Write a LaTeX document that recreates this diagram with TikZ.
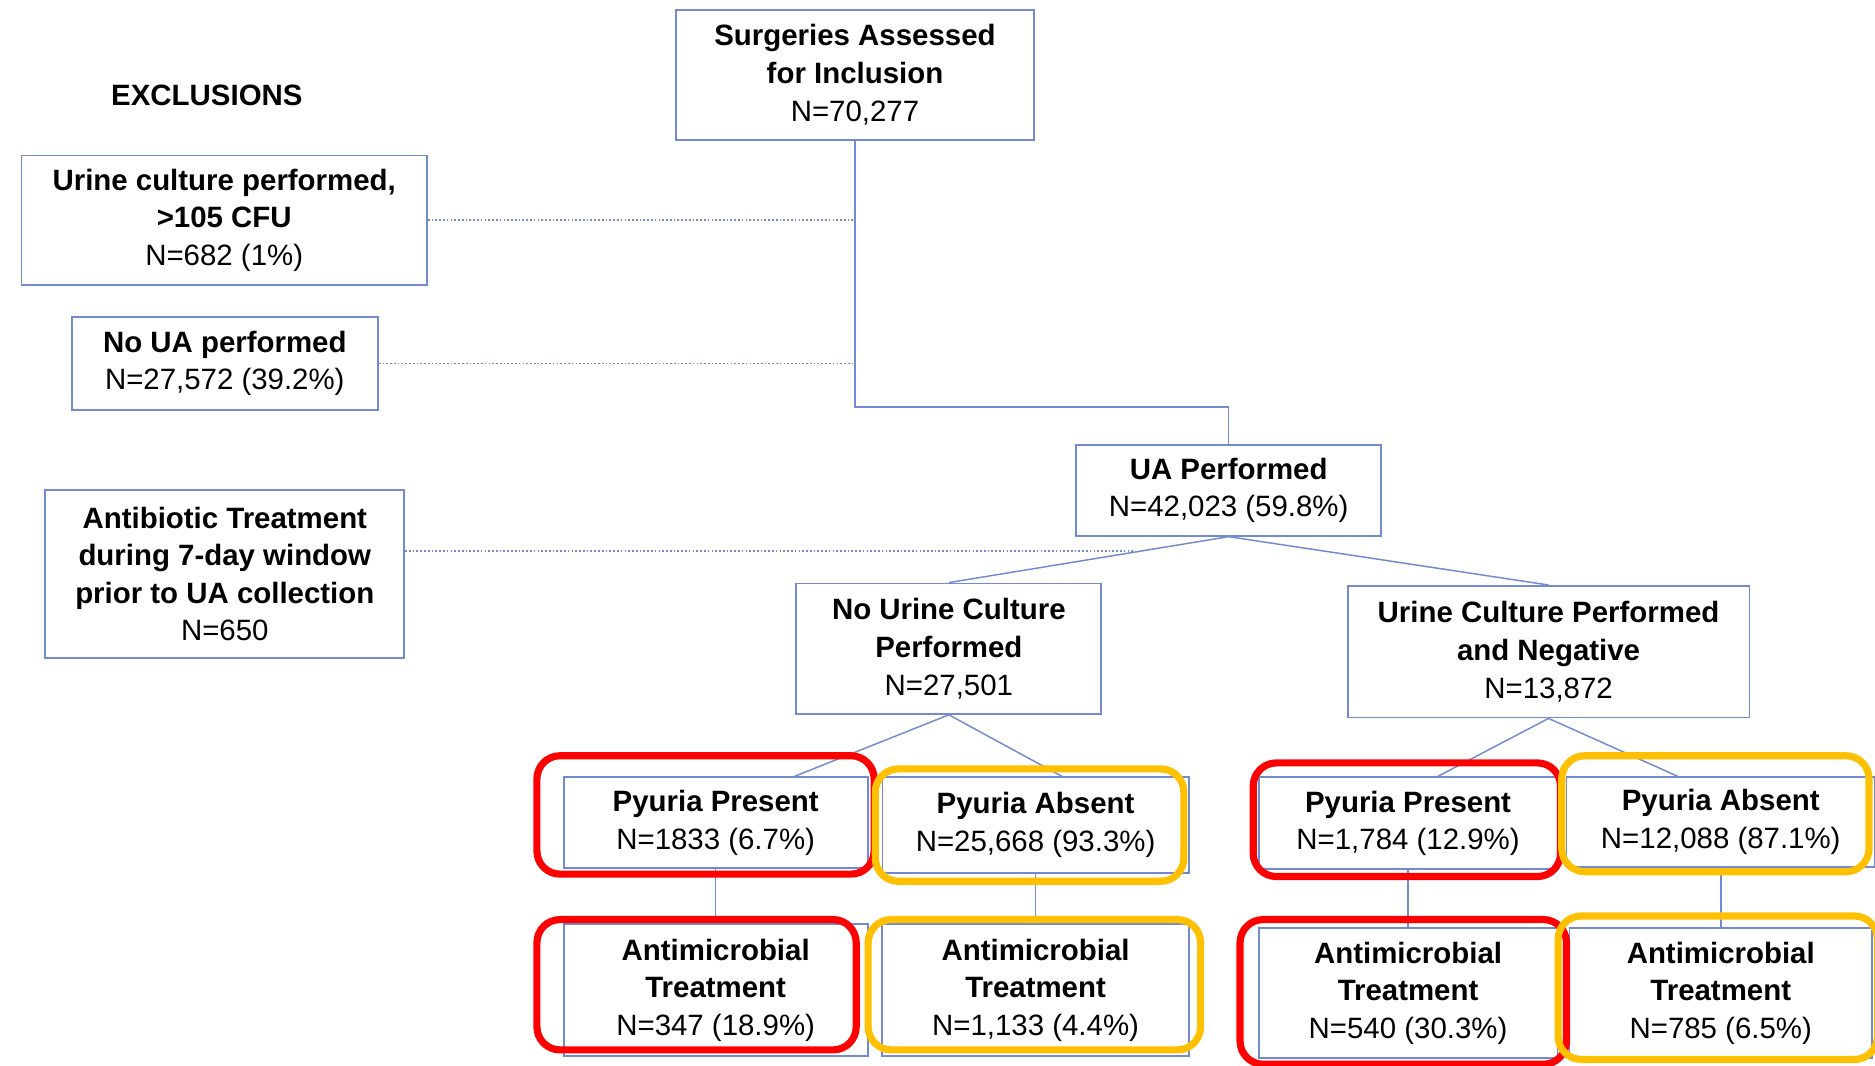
\documentclass[tikz,border=0pt]{standalone}
\usepackage{fontspec}
\setmainfont{Liberation Sans}
\definecolor{boxblue}{RGB}{114,138,208}
\definecolor{hlred}{RGB}{255,0,0}
\definecolor{hlgold}{RGB}{255,192,0}
\begin{document}
\begin{tikzpicture}[every node/.style={font=\fontsize{14}{17.9}\selectfont},
  box/.style={draw=boxblue,line width=0.9pt,fill=white,align=center,inner sep=2pt},
  link/.style={draw=boxblue,line width=0.7pt},
  exclink/.style={draw=boxblue,line width=0.8pt,densely dotted},
  redhl/.style={draw=hlred,line width=3.4pt,rounded corners=11pt},
  goldhl/.style={draw=hlgold,line width=3.4pt,rounded corners=11pt}]
  \useasboundingbox (0,0) rectangle (31.36,-17.82);
  % main flow
  \node[box,minimum width=6.0cm,minimum height=2.18cm] (surg) at (14.30,-1.25) {\textbf{Surgeries Assessed}\\\textbf{for Inclusion}\\N=70,277};
  \node[box,minimum width=5.1cm,minimum height=1.52cm] (ua) at (20.55,-8.20) {\textbf{UA Performed}\\N=42,023 (59.8\%)};
  \node[box,minimum width=5.1cm,minimum height=2.18cm] (nouc) at (15.87,-10.85) {\textbf{No Urine Culture}\\\textbf{Performed}\\N=27,501};
  \node[box,minimum width=6.72cm,minimum height=2.2cm] (ucneg) at (25.90,-10.90) {\textbf{Urine Culture Performed}\\\textbf{and Negative}\\N=13,872};
  % exclusions
  \node (excl) at (3.46,-1.60) {\textbf{EXCLUSIONS}};
  \node[box,minimum width=6.78cm,minimum height=2.16cm] (ucp) at (3.75,-3.68) {\textbf{Urine culture performed,}\\\textbf{>105 CFU}\\N=682 (1\%)};
  \node[box,minimum width=5.12cm,minimum height=1.56cm] (noua) at (3.76,-6.08) {\textbf{No UA performed}\\N=27,572 (39.2\%)};
  \node[box,minimum width=6.0cm,minimum height=2.8cm] (abx) at (3.76,-9.60) {\textbf{Antibiotic Treatment}\\\textbf{during 7-day window}\\\textbf{prior to UA collection}\\N=650};
  % pyuria split
  \node[box,minimum width=5.08cm,minimum height=1.52cm] (pp1) at (11.97,-13.76) {\textbf{Pyuria Present}\\N=1833 (6.7\%)};
  \node[box,minimum width=5.12cm,minimum height=1.6cm] (pa1) at (17.32,-13.80) {\textbf{Pyuria Absent}\\N=25,668 (93.3\%)};
  \node[box,minimum width=5.08cm,minimum height=2.2cm] (am1) at (11.97,-16.56) {\textbf{Antimicrobial}\\\textbf{Treatment}\\N=347 (18.9\%)};
  \node[box,minimum width=5.14cm,minimum height=2.2cm] (am2) at (17.32,-16.56) {\textbf{Antimicrobial}\\\textbf{Treatment}\\N=1,133 (4.4\%)};
  \node[box,minimum width=5.0cm,minimum height=1.54cm] (pp2) at (23.55,-13.77) {\textbf{Pyuria Present}\\N=1,784 (12.9\%)};
  \node[box,minimum width=5.16cm,minimum height=1.5cm] (pa2) at (28.78,-13.75) {\textbf{Pyuria Absent}\\N=12,088 (87.1\%)};
  \node[box,minimum width=5.0cm,minimum height=2.18cm] (am3) at (23.55,-16.61) {\textbf{Antimicrobial}\\\textbf{Treatment}\\N=540 (30.3\%)};
  \node[box,minimum width=5.06cm,minimum height=2.18cm] (am4) at (28.78,-16.61) {\textbf{Antimicrobial}\\\textbf{Treatment}\\N=785 (6.5\%)};
  \coordinate (abxend) at (18.95,-9.22);
  % connectors
  \draw[link] (surg.south) |- ([yshift=0.62cm]ua.north) -- (ua.north);
  \draw[exclink] (ucp.east) -- (ucp.east -| surg.south);
  \draw[exclink] (noua.east) -- (noua.east -| surg.south);
  \draw[exclink] ([yshift=0.38cm]abx.east) -- (abxend);
  \draw[link] (ua.south) -- (nouc.north); \draw[link] (ua.south) -- (ucneg.north);
  \draw[link] (nouc.south) -- ([xshift=1.32cm]pp1.north); \draw[link] (nouc.south) -- ([xshift=0.44cm]pa1.north);
  \draw[link] (ucneg.south) -- ([xshift=0.5cm]pp2.north); \draw[link] (ucneg.south) -- ([xshift=-0.72cm]pa2.north);
  \draw[link] (pp1.south) -- (am1.north); \draw[link] (pa1.south) -- (am2.north);
  \draw[link] (pp2.south) -- (am3.north); \draw[link] (pa2.south) -- (am4.north);
  % highlights
  \draw[redhl] (8.98,-12.64) rectangle (14.62,-14.62);
  \draw[goldhl] (14.64,-12.86) rectangle (19.80,-14.74);
  \draw[redhl] (8.98,-15.38) rectangle (14.32,-17.56);
  \draw[goldhl] (14.52,-15.38) rectangle (20.08,-17.56);
  \draw[redhl] (20.96,-12.76) rectangle (26.10,-14.66);
  \draw[goldhl] (26.12,-12.64) rectangle (31.26,-14.58);
  \draw[redhl] (20.74,-15.38) rectangle (26.20,-17.80);
  \draw[goldhl] (26.06,-15.32) rectangle (31.40,-17.72);
\end{tikzpicture}
\end{document}
